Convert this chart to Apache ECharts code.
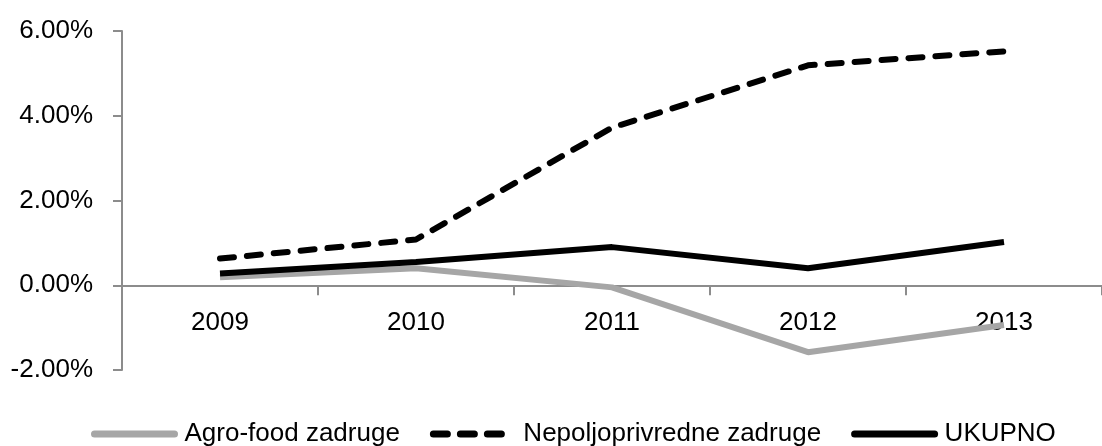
<!DOCTYPE html>
<html><head><meta charset="utf-8">
<script src="https://cdn.jsdelivr.net/npm/echarts@6/dist/echarts.min.js"></script>
<style>html,body{margin:0;padding:0;background:#fff}#c{width:1102px;height:446px}</style>
</head><body><div id="c"></div>
<script>
const categories = ['2009', '2010', '2011', '2012', '2013'];
const agroFood = [0.19, 0.40, -0.05, -1.58, -0.94];
const nepoljoprivredne = [0.63, 1.08, 3.72, 5.19, 5.52];
const ukupno = [0.28, 0.55, 0.90, 0.40, 1.02];
const seriesNames = ['Agro-food zadruge', 'Nepoljoprivredne zadruge', 'UKUPNO'];

const font = 'Liberation Sans, Arial, sans-serif';
const chart = echarts.init(document.getElementById('c'));
chart.setOption({
  animation: false,
  grid: { left: 122, top: 31, width: 988, bottom: 76 },
  legend: {
    bottom: -6, left: 86,
    itemWidth: 80, itemHeight: 14, itemGap: 30,
    itemStyle: { opacity: 0 },
    lineStyle: { width: 7, cap: 'round' },
    textStyle: { fontFamily: font, fontSize: 26, color: '#000', padding: [0,0,0,5] },
    data: seriesNames
  },
  xAxis: {
    type: 'category', data: categories,
    axisLine: { onZero: true, lineStyle: { color: '#8c8c8c', width: 2 } },
    axisTick: { show: true, length: 10, lineStyle: { color: '#8c8c8c', width: 2 } },
    axisLabel: { fontFamily: font, fontSize: 26, color: '#000', margin: -60 }
  },
  yAxis: {
    type: 'value', min: -2, max: 6, interval: 2,
    splitLine: { show: false },
    axisLine: { show: true, lineStyle: { color: '#8c8c8c', width: 2 } },
    axisTick: { show: true, length: 9, lineStyle: { color: '#8c8c8c', width: 2 } },
    axisLabel: { fontFamily: font, fontSize: 26, color: '#000', margin: 29,
      formatter: v => v.toFixed(2) + '%' }
  },
  series: [
    { name: seriesNames[0], type: 'line', data: agroFood, symbol: 'none',
      lineStyle: { color: '#a6a6a6', width: 6 }, itemStyle: { color: '#a6a6a6' } },
    { name: seriesNames[1], type: 'line', data: nepoljoprivredne, symbol: 'none',
      lineStyle: { color: '#000', width: 6, type: [14, 13], cap: 'round' }, itemStyle: { color: '#000' } },
    { name: seriesNames[2], type: 'line', data: ukupno, symbol: 'none',
      lineStyle: { color: '#000', width: 6 }, itemStyle: { color: '#000' } }
  ]
});
</script></body></html>
